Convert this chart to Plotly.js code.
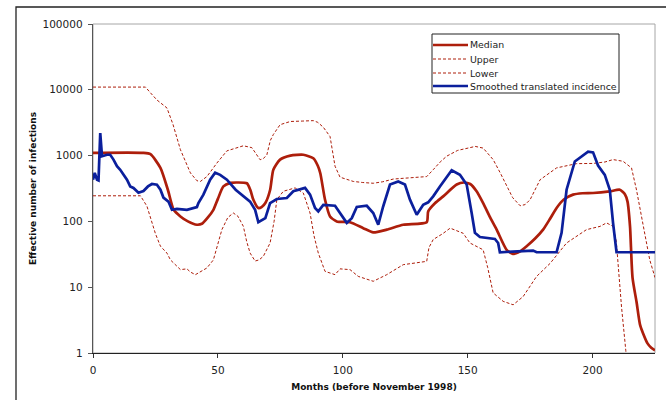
<!DOCTYPE html>
<html>
<head>
<meta charset="utf-8">
<script src="https://cdn.plot.ly/plotly-3.0.1.min.js"></script>
<style>html,body{margin:0;padding:0;background:#fff;}#chart{width:666px;height:400px;}</style>
</head>
<body>
<div id="chart"></div>
<script>
// ---- Data (months before November 1998, effective number of infections) ----
const medianX = [0,20,23,27,30,32.3,35,38,41.6,43.6,46,48.2,50,52.2,55,57.6,61.6,63,64.2,66.2,67.5,69,70.9,72.2,74.9,79,84.2,88.2,90,91,92.9,94.9,97.6,102.9,108.2,112.2,117.6,124.2,133.6,134.2,137,140.2,145.6,148.5,151,153.5,156.2,159,161.6,165.6,168.2,171,173.6,177,180.2,183,185.6,188.5,192.2,196,200.2,206.9,210.9,213,214,215,216,217.6,219,220.2,222,223.5,225];
const medianY = [1100,1100,1050,650,300,150,119,100,89,92,115,150,220,340,385,390,380,300,213,160,165,190,300,610,870,1000,1030,910,700,540,213,119,100,97,79,68,75,89,97,142,190,240,363,390,370,290,190,115,75,37,32,35,42,55,75,110,160,215,255,268,270,286,303,257,200,84,14,6,2.7,2,1.4,1.2,1.1];

const upperX = [0,21,23,25.6,29.6,32,35,37,39,41.6,43,45.6,49.6,53.6,57,60.2,63.6,66.9,68.2,69.6,71,72.2,74.9,79,84,88.2,90,92.2,94.9,96.9,98.9,104.2,108,112.2,116,120.2,127,133.6,136.2,139,141.6,146,150.9,153,156.2,160.2,163,165.6,168,171,173,175,179,185.6,193.6,200.2,205,208.2,212.2,215.6,217.6,220.2,222.9,225];
const upperY = [11000,11000,9000,7000,5300,3000,1230,800,545,415,405,480,770,1180,1300,1410,1320,865,900,1030,1700,2090,2950,3300,3350,3400,3200,2700,1950,690,470,405,390,380,400,440,460,480,610,800,980,1200,1320,1380,1300,870,550,340,230,173,180,214,430,650,755,760,800,870,820,650,300,90,26,14];

const lowerX = [0,19,21.6,22.9,25,27,29.6,31,33.6,35,37.6,39,41,43,45.6,48.2,50,51.6,54,56.2,58,60.2,61.5,62.9,64.9,66.5,68.2,70.9,72.5,73.6,76.2,80.9,84.2,86.9,88.5,90.2,92.9,96.9,98.9,102.9,106.2,112.2,117.6,124.2,133.6,134.5,136.2,140,143,148.2,150.9,156.2,158,160.2,164.2,168.2,172.2,177.6,183,189.6,197.6,203,205.6,208.2,209.5,210.2,211.6,213.3,214];
const lowerY = [245,245,170,119,65,42,33,26,21,18.5,19,17,15.5,17,19.6,26,45,75,115,134,120,84,50,33,25,26,29.5,47,100,214,287,323,270,134,60,33,17.4,15.5,19,18.5,14.6,12.3,15.5,22,24.7,40,53,65,79,66,47,37,20,8.2,6.1,5.4,7.2,14.6,23,47,75,84,95,84,50,21,5,1.1,0.5];

const incidX = [0,0.7,1.6,2.2,2.9,3.6,5.6,6.9,8.2,9.6,10.9,12.2,13.6,14.9,16.2,18.2,20.2,22,23.6,25.6,27,28.2,30.2,31.6,33.6,37.6,40.2,41.6,42.2,44.2,46.9,48.9,50.9,53.6,57.1,60.2,62.9,64.9,66.2,69,70.9,73.6,77.6,80.2,84.9,86.9,88.9,90.2,92.2,96.9,98.9,101.6,103.6,105.6,109.6,112.2,114.2,116.2,118.9,122.2,124.9,126.9,129.6,132.2,134.2,136.2,138.9,141.6,143.6,146.9,149.6,151.6,152.9,154.9,160.9,162.2,162.9,170,176.2,177.6,185.6,187.6,189.6,192.9,196.2,198.2,200.2,202.2,204.9,206.9,208.2,209.6,225];
const incidY = [430,545,430,420,2200,980,1030,1030,870,690,610,510,430,340,322,272,290,340,370,362,303,230,200,150,155,150,160,165,190,255,430,550,510,430,303,240,200,150,97,112,190,219,227,287,323,255,160,142,178,173,134,95,112,166,173,134,89,170,363,405,363,214,126,179,195,240,340,480,600,510,363,134,67,58,54,47,34,35,36,34,34,67,303,815,1000,1150,1120,705,510,303,95,34,34];

const seriesNames = ["Median","Upper","Lower","Smoothed translated incidence"];
const xTickVals = [0,50,100,150,200];
const yTickVals = [1,10,100,1000,10000,100000];
const yTickText = ["1","10","100","1000","10000","100000"];
const xTitle = "Months (before November 1998)";
const yTitle = "Effective number of infections";

// ---- Styling ----
const RED = "#AD1E0B";
const BLUE = "#0B1F9C";
const FONT = "DejaVu Sans, Verdana, sans-serif";
const W = 666, H = 400;
const M = {l:93, r:11, t:24, b:47};
const PW = W - M.l - M.r, PH = H - M.t - M.b;
const px = x => (x - M.l) / PW;
const py = y => (H - M.b - y) / PH;

const traces = [
  {x: medianX, y: medianY, name: seriesNames[0], mode: "lines", line: {color: RED, width: 2.7, shape: "spline", smoothing: 0.6}},
  {x: upperX, y: upperY, name: seriesNames[1], mode: "lines", line: {color: RED, width: 1, dash: "3px,2px"}},
  {x: lowerX, y: lowerY, name: seriesNames[2], mode: "lines", line: {color: RED, width: 1, dash: "3px,2px"}},
  {x: incidX, y: incidY, name: seriesNames[3], mode: "lines", line: {color: BLUE, width: 2.7}}
];

// Legend drawn as shapes + text
const legBox = {x0: 432, x1: 619, y0: 34, y1: 93};
const legRows = [45, 59, 73, 86];
const legStyles = [
  {color: RED, width: 2.6, dash: "solid"},
  {color: RED, width: 1, dash: "3px,2px"},
  {color: RED, width: 1, dash: "3px,2px"},
  {color: BLUE, width: 2.6, dash: "solid"}
];

const shapes = [
  {type: "rect", xref: "paper", yref: "paper", x0: 0, x1: 1, y0: 0, y1: 1, line: {color: "#A6A6A6", width: 1}, layer: "below"},
  {type: "rect", xref: "paper", yref: "paper", x0: px(16), x1: px(700), y0: py(440), y1: py(7), line: {color: "#222", width: 1.3}, layer: "below"},
  {type: "rect", xref: "paper", yref: "paper", x0: px(legBox.x0), x1: px(legBox.x1), y0: py(legBox.y1), y1: py(legBox.y0), line: {color: "#222", width: 1}, fillcolor: "#fff", layer: "above"}
];
const annotations = [];
legRows.forEach((ry, i) => {
  shapes.push({type: "line", xref: "paper", yref: "paper", x0: px(433), x1: px(468), y0: py(ry), y1: py(ry), line: legStyles[i], layer: "above"});
  annotations.push({xref: "paper", yref: "paper", x: px(468), y: py(ry), text: seriesNames[i], showarrow: false, xanchor: "left", yanchor: "middle", font: {family: FONT, size: 9.4, color: "#222"}});
});

const layout = {
  width: W, height: H, autosize: false,
  margin: M,
  paper_bgcolor: "#fff", plot_bgcolor: "#fff",
  showlegend: false,
  font: {family: FONT, color: "#222"},
  xaxis: {
    range: [0, 225], tickvals: xTickVals, ticks: "outside", ticklen: 4, tickcolor: "#333",
    showline: true, linecolor: "#222", linewidth: 1.3, showgrid: false, zeroline: false,
    ticklabelstandoff: 3,
    tickfont: {family: FONT, size: 10.5, color: "#222"},
    title: {text: xTitle, font: {family: FONT, size: 9, color: "#111", weight: "bold"}, standoff: 8}
  },
  yaxis: {
    type: "log", range: [0, 5], tickvals: yTickVals, ticktext: yTickText, ticks: "outside", ticklen: 4, tickcolor: "#555",
    showline: true, linecolor: "#555", linewidth: 1.3, showgrid: false, zeroline: false,
    ticklabelstandoff: 3,
    tickfont: {family: FONT, size: 10.5, color: "#222"},
    title: {text: yTitle, font: {family: FONT, size: 9, color: "#111", weight: "bold"}, standoff: 4}
  },
  shapes: shapes,
  annotations: annotations
};

Plotly.newPlot("chart", traces, layout, {displayModeBar: false, staticPlot: true});
</script>
</body>
</html>
